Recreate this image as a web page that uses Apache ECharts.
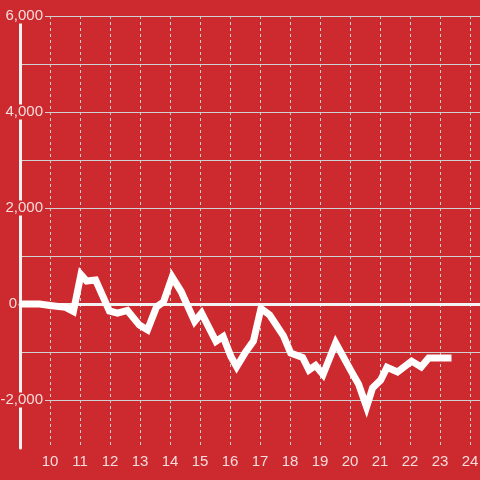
<!DOCTYPE html>
<html>
<head>
<meta charset="utf-8">
<script src="https://cdn.jsdelivr.net/npm/echarts@6/dist/echarts.min.js"></script>
<style>
html,body{margin:0;padding:0;background:#cc2a2f;}
#c{width:480px;height:480px;}
</style>
</head>
<body>
<div id="c"></div>
<script>
// x values (hours) and y values
var xValues = [9.0, 9.65, 10.0, 10.52, 10.78, 11.03, 11.22, 11.52, 11.98, 12.25, 12.58, 12.98, 13.25, 13.55, 13.78, 14.07, 14.37, 14.82, 15.05, 15.53, 15.77, 16.03, 16.22, 16.52, 16.78, 17.03, 17.32, 17.78, 18.02, 18.42, 18.63, 18.85, 19.1, 19.52, 20.05, 20.28, 20.55, 20.75, 21.02, 21.23, 21.58, 22.05, 22.37, 22.62, 23.38];
var yValues = [0, 0, -30, -70, -155, 615, 480, 500, -145, -190, -135, -440, -540, -60, 40, 560, 260, -365, -190, -780, -680, -1095, -1310, -1000, -770, -95, -230, -665, -1020, -1115, -1375, -1280, -1470, -810, -1415, -1665, -2145, -1750, -1585, -1320, -1415, -1190, -1310, -1125, -1125];
var xTickLabels = ['10','11','12','13','14','15','16','17','18','19','20','21','22','23','24'];

var BG = '#cc2a2f';
var LABEL = '#f5dcdc';
var GRID = '#d0d0d0';
var FONT = 'Liberation Sans';

var data = xValues.map(function (x, i) { return [x, yValues[i]]; });

var splitColors = ['rgba(0,0,0,0)'];
for (var i = 0; i < 9; i++) splitColors.push(GRID);

var xSplitColors = [];
for (var j = 0; j < 16; j++) xSplitColors.push(GRID);
xSplitColors.push('rgba(0,0,0,0)');

function fmt(v) {
  var s = Math.abs(v).toString().replace(/\B(?=(\d{3})+(?!\d))/g, ',');
  return (v < 0 ? '-' : '') + s;
}

var chart = echarts.init(document.getElementById('c'));
chart.setOption({
  animation: false,
  backgroundColor: BG,
  grid: { left: 20, right: 0, top: 16, bottom: 32, containLabel: false, outerBoundsMode: 'none' },
  xAxis: [{
    type: 'value', min: 9, max: 24.33, interval: 1,
    axisLine: { show: false, onZero: false },
    axisTick: { show: false },
    axisLabel: {
      color: LABEL, fontSize: 15, fontFamily: FONT, margin: 6,
      formatter: function (v) {
        var s = String(v);
        return xTickLabels.indexOf(s) >= 0 ? s : '';
      }
    },
    splitLine: { show: true, lineStyle: { color: xSplitColors, type: [3, 3], width: 1 } }
  }, {
    type: 'value', min: 9, max: 24.33, interval: 1,
    axisLine: { show: true, onZero: true, lineStyle: { color: '#f2f2f2', width: 3 } },
    axisTick: { show: false },
    axisLabel: { show: false },
    splitLine: { show: false }
  }],
  yAxis: {
    type: 'value', min: -3000, max: 6000, interval: 1000,
    axisLine: { show: true, onZero: false, lineStyle: { color: '#f2f2f2', width: 3 } },
    axisTick: { show: false },
    axisLabel: {
      margin: -25, fontSize: 15, fontFamily: FONT, color: LABEL,
      formatter: function (v) {
        if (v % 2000 !== 0) return '';
        if (v === 0) return '{z|0}{s| }';
        return '{a|' + fmt(v) + '}';
      },
      rich: {
        a: { backgroundColor: BG, padding: [0, 2, 0, 2], lineHeight: 16, color: LABEL, fontSize: 15, fontFamily: FONT },
        z: { backgroundColor: BG, padding: [0, 1, 0, 1], lineHeight: 16, color: LABEL, fontSize: 15, fontFamily: FONT },
        s: { width: 27, fontSize: 15 }
      }
    },
    splitLine: { show: true, lineStyle: { color: splitColors, width: 1 } }
  },
  series: [{
    type: 'line',
    xAxisIndex: 0,
    data: data,
    showSymbol: false,
    lineStyle: { color: '#ffffff', width: 7, join: 'miter', cap: 'butt' },
    z: 5
  }]
});
</script>
</body>
</html>
